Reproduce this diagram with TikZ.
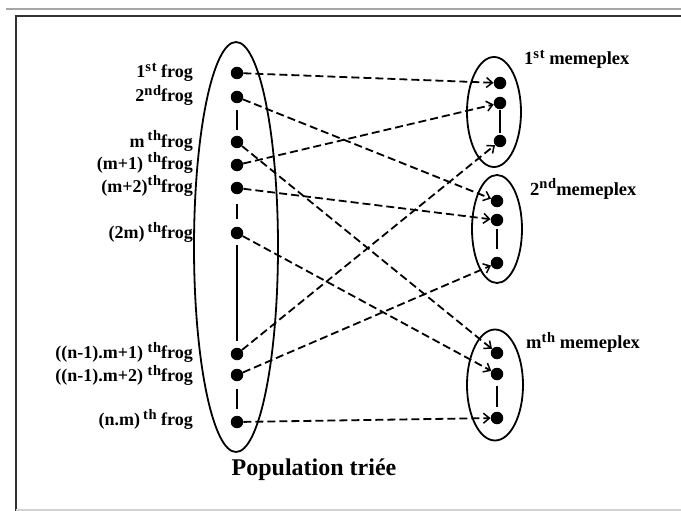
\documentclass[tikz,border=0pt]{standalone}
\usepackage{fontspec}
\setmainfont{Liberation Serif}
\usetikzlibrary{arrows.meta,shapes.geometric}

% raised ordinal suffix (st, nd, th)
\newcommand\supr[1]{\raisebox{6pt}{\fontsize{14.5}{15}\selectfont\addfontfeature{LetterSpace=5}#1}}

\begin{document}
\begin{tikzpicture}[x=1pt,y=-1pt,
  dot/.style={circle,fill=black,inner sep=0pt,minimum size=12.5pt},
  lbl/.style={font=\fontsize{18}{20}\selectfont\bfseries,inner sep=0pt},
  mlbl/.style={font=\fontsize{18.5}{21}\selectfont\bfseries,inner sep=0pt},
  title/.style={font=\fontsize{24}{28}\selectfont\bfseries,inner sep=0pt},
  group/.style={draw,ellipse,line width=1.8pt,inner sep=0pt},
  link/.style={dash pattern=on 8pt off 4pt,line width=1.8pt,
    -{Straight Barb[length=6pt,width=10pt,line width=1.5pt]}},
  chain/.style={line width=1.7pt}]

\useasboundingbox (0,0) rectangle (681,511);

% page frame
\draw[line width=2pt,gray!70] (6,9) -- (681,9);
\draw[line width=2.5pt,black!80] (16,511) -- (16,16) -- (681,16);
\draw[line width=1.5pt,gray!35] (16,510) -- (681,510);

% sorted population
\node[group,minimum width=84pt,minimum height=410pt] (pop) at (236,247) {};
\node[dot] (f1) at (237,73) {};
\node[dot] (f2) at (237,97) {};
\node[dot] (fm) at (237,142) {};
\node[dot] (fm1) at (237,165) {};
\node[dot] (fm2) at (237,188) {};
\node[dot] (f2m) at (237,233) {};
\node[dot] (fk1) at (237,354) {};
\node[dot] (fk2) at (237,375) {};
\node[dot] (fnm) at (237,422) {};
\draw[chain,shorten <=7pt,shorten >=6pt] (f2) -- (fm);
\draw[chain,shorten <=10pt,shorten >=8pt] (fm2) -- (f2m);
\draw[chain,shorten <=6pt,shorten >=7pt] (f2m) -- (fk1);
\draw[chain,shorten <=8pt,shorten >=7pt] (fk2) -- (fnm);

% frog labels
\node[lbl,anchor=base east] (l1) at (193,78) {1\supr{st} frog};
\node[lbl,anchor=base east] (l2) at (193,102) {2\supr{nd}frog};
\node[lbl,anchor=base east] (lm) at (193,147) {m\,\supr{th}frog};
\node[lbl,anchor=base east] (lm1) at (193,169) {(m+1) \supr{th}frog};
\node[lbl,anchor=base east] (lm2) at (193,192) {(m+2)\supr{th}frog};
\node[lbl,anchor=base east] (l2m) at (193,238) {(2m)\,\supr{th}frog};
\node[lbl,anchor=base east] (lk1) at (193,358) {((n-1).m+1) \supr{th}frog};
\node[lbl,anchor=base east] (lk2) at (193,381) {((n-1).m+2) \supr{th}frog};
\node[lbl,anchor=base east] (lnm) at (193,425) {(n.m)\,\supr{th} frog};

\node[title,anchor=base] (pt) at (314,475) {Population triée};

% memeplexes
\node[group,minimum width=54pt,minimum height=110pt] (g1) at (494,112) {};
\node[dot] (a1) at (500,83) {};
\node[dot] (a2) at (500,103) {};
\node[dot] (a3) at (500,141) {};
\draw[chain,shorten <=1pt,shorten >=2pt] (a2) -- (a3);

\node[group,minimum width=50pt,minimum height=108pt] (g2) at (497,229) {};
\node[dot] (b1) at (497,201) {};
\node[dot] (b2) at (497,220) {};
\node[dot] (b3) at (497,263) {};
\draw[chain,shorten <=3pt,shorten >=8pt] (b2) -- (b3);

\node[group,minimum width=56pt,minimum height=111pt] (g3) at (495,385) {};
\node[dot] (c1) at (497,353) {};
\node[dot] (c2) at (497,374) {};
\node[dot] (c3) at (497,418) {};
\draw[chain,shorten <=6pt,shorten >=5pt] (c2) -- (c3);

\node[mlbl,anchor=base west] (t1) at (524,65) {1\supr{st} memeplex};
\node[mlbl,anchor=base west] (t2) at (530,195) {2\supr{nd}memeplex};
\node[mlbl,anchor=base west] (t3) at (526,348) {m\supr{th} memeplex};

% distribution of frogs over memeplexes
\draw[link] (f1) -- (a1);
\draw[link] (f2) -- (b1);
\draw[link] (fm) -- (c1);
\draw[link] (fm1) -- (a2);
\draw[link] (fm2) -- (b2);
\draw[link] (f2m) -- (c2);
\draw[link] (fk1) -- (a3);
\draw[link] (fk2) -- (b3);
\draw[link] (fnm) -- (c3);

\end{tikzpicture}
\end{document}
